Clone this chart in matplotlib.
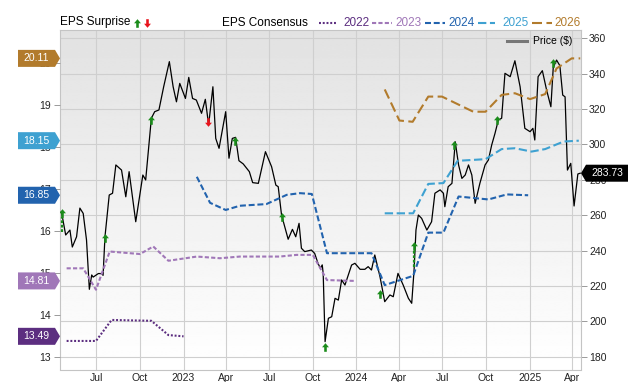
import numpy as np
import pandas as pd
import matplotlib
matplotlib.use("Agg")
import matplotlib.pyplot as plt
from matplotlib.path import Path
from matplotlib.patches import Polygon
from matplotlib.lines import Line2D
from matplotlib.transforms import IdentityTransform, blended_transform_factory

# ---- data ----
price_dates = [
    "2022-04-18", "2022-04-27", "2022-05-06", "2022-05-11", "2022-05-20", "2022-05-27",
    "2022-06-03", "2022-06-10", "2022-06-16", "2022-06-21", "2022-06-24", "2022-07-05",
    "2022-07-12", "2022-07-15", "2022-07-19", "2022-07-28", "2022-08-04", "2022-08-11",
    "2022-08-23", "2022-09-01", "2022-09-08", "2022-09-22", "2022-10-07", "2022-10-13",
    "2022-10-25", "2022-11-01", "2022-11-10", "2022-11-20", "2022-12-02", "2022-12-10",
    "2022-12-17", "2022-12-24",
    "2023-01-05", "2023-01-12", "2023-01-20", "2023-01-28", "2023-02-08", "2023-02-16",
    "2023-02-23", "2023-03-04", "2023-03-10", "2023-03-17", "2023-03-31", "2023-04-07",
    "2023-04-14", "2023-04-21", "2023-04-28", "2023-05-07", "2023-05-20", "2023-05-27",
    "2023-06-08", "2023-06-23", "2023-07-06", "2023-07-15", "2023-07-20", "2023-07-27",
    "2023-08-10", "2023-08-19", "2023-08-26", "2023-09-02", "2023-09-07", "2023-09-14",
    "2023-09-28", "2023-10-05", "2023-10-12", "2023-10-17", "2023-10-21", "2023-10-23",
    "2023-10-27", "2023-11-03", "2023-11-10", "2023-11-17", "2023-11-24", "2023-12-01",
    "2023-12-08", "2023-12-22", "2023-12-29",
    "2024-01-09", "2024-01-19", "2024-01-26", "2024-02-02", "2024-02-09", "2024-02-20",
    "2024-03-01", "2024-03-12", "2024-03-19", "2024-03-29", "2024-04-09", "2024-04-20",
    "2024-04-27", "2024-05-02", "2024-05-06", "2024-05-11", "2024-05-18", "2024-05-29",
    "2024-06-08", "2024-06-15", "2024-06-26", "2024-07-03", "2024-07-06", "2024-07-13",
    "2024-07-21", "2024-07-28", "2024-08-04", "2024-08-11", "2024-08-18", "2024-08-25",
    "2024-09-01", "2024-09-08", "2024-09-18", "2024-09-29", "2024-10-06", "2024-10-13",
    "2024-10-20", "2024-10-27", "2024-11-03", "2024-11-10", "2024-11-21", "2024-12-01",
    "2024-12-12", "2024-12-22",
    "2025-01-02", "2025-01-08", "2025-01-12", "2025-01-19", "2025-01-28", "2025-02-06",
    "2025-02-15", "2025-02-20", "2025-02-27", "2025-03-06", "2025-03-12", "2025-03-17",
    "2025-03-22", "2025-03-29", "2025-04-05", "2025-04-13", "2025-04-18",
]
price_values = [
    262, 248.8, 251.6, 242, 247.8, 264, 261, 246, 218.1, 226.2, 225, 227, 227, 226,
    247.8, 271.4, 272.4, 288.4, 285.5, 270.4, 284.6, 256.3, 282.7, 279.9, 314.8, 318.5,
    319.5, 332.6, 346.8, 332.6, 324.1, 334.5,
    326, 337.9, 326, 325.1, 317.6, 325.5, 311, 332.6, 303.4, 297.8, 318.5, 292.2, 303.4,
    304, 290.8, 289, 284.6, 278.4, 278, 295.9, 287.4, 277, 276.1, 260.1, 246.4, 252,
    247.8, 255.4, 241.3, 239.4, 240.3, 238.4, 232.8, 230, 231.9, 227.1, 188.5, 201.7,
    202.6, 213, 212, 223.4, 220.5, 231.8, 232.8,
    229.4, 229.4, 230.9, 229, 237.5, 225.2, 211.1, 214.9, 213.9, 227.1, 220.5, 213,
    210.2, 229, 251.6, 260.1, 258.2, 251.6, 256.3, 272.4, 274.3, 272.4, 264.8, 276.1,
    278, 301.5, 288.4, 280.8, 282.7, 288.4, 282.7, 266.7, 278, 288.4, 291.2, 299.7,
    306.3, 313.8, 314.8, 340.2, 338.3, 347.3, 332.6, 309.1,
    307.2, 309.1, 302.5, 338.3, 341.7, 330.7, 321.3, 343.5, 347.7, 344.5, 327.9, 326.9,
    285.5, 289.3, 265.2, 283.3, 283.73,
]

eps22_dates = ["2022-04-29", "2022-06-30", "2022-08-02", "2022-10-25", "2022-11-30", "2023-01-01"]
eps22_values = [13.38, 13.38, 13.88, 13.86, 13.52, 13.49]

eps23_dates = ["2022-04-29", "2022-06-03", "2022-06-30", "2022-07-29", "2022-10-01", "2022-10-29",
               "2022-11-30", "2023-01-29", "2023-03-19", "2023-04-30", "2023-07-23", "2023-08-28",
               "2023-10-01", "2023-10-31", "2023-12-29"]
eps23_values = [15.11, 15.11, 14.60, 15.51, 15.45, 15.63, 15.29, 15.39, 15.35, 15.39, 15.39,
                15.43, 15.43, 14.83, 14.81]

eps24_dates = ["2023-01-29", "2023-02-26", "2023-03-31", "2023-04-30", "2023-06-25", "2023-08-07",
               "2023-09-04", "2023-09-29", "2023-10-31", "2024-02-02", "2024-03-01", "2024-04-30",
               "2024-06-01", "2024-07-03", "2024-08-04", "2024-10-06", "2024-11-14", "2024-12-29"]
eps24_values = [17.29, 16.67, 16.50, 16.60, 16.64, 16.86, 16.90, 16.88, 15.47, 15.47, 14.71,
                14.93, 15.96, 15.96, 16.82, 16.75, 16.87, 16.85]

eps25_dates = ["2024-03-01", "2024-04-30", "2024-06-01", "2024-07-03", "2024-08-02", "2024-09-30",
               "2024-11-03", "2024-12-01", "2025-01-05", "2025-02-03", "2025-03-14", "2025-04-15"]
eps25_values = [16.42, 16.42, 17.12, 17.14, 17.67, 17.71, 17.95, 17.97, 17.89, 17.95, 18.13, 18.15]

eps26_dates = ["2024-03-01", "2024-04-01", "2024-04-29", "2024-06-01", "2024-06-30", "2024-09-04",
               "2024-09-30", "2024-11-03", "2024-12-01", "2025-01-02", "2025-02-03", "2025-02-27",
               "2025-03-31", "2025-04-18"]
eps26_values = [19.37, 18.63, 18.60, 19.20, 19.20, 18.84, 18.84, 19.24, 19.28, 19.14, 19.26,
                19.87, 20.11, 20.11]

surprise_dates = ["2022-04-19", "2022-07-19", "2022-10-25", "2023-02-21", "2023-04-19", "2023-07-27",
                  "2023-10-27", "2024-02-21", "2024-05-02", "2024-07-26", "2024-10-24", "2025-02-20"]
surprise_prices = [261.2, 247.1, 313.8, 312.7, 301.9, 259.0, 185.5, 215.4, 242.6, 299.7, 313.8, 346.0]
surprise_dirs = ["up", "up", "up", "down", "up", "up", "up", "up", "up", "up", "up", "up"]

# dashed jump markers under two of the surprises
jump_dates = ["2022-04-19", "2024-05-02"]
jump_low = [250.4, 230.9]
jump_high = [259.0, 240.0]

tick_dates = ["2022-07-01", "2022-10-01", "2023-01-01", "2023-04-01", "2023-07-01", "2023-10-01",
              "2024-01-01", "2024-04-01", "2024-07-01", "2024-10-01", "2025-01-01", "2025-04-01"]
tick_labels = ["Jul", "Oct", "2023", "Apr", "Jul", "Oct", "2024", "Apr", "Jul", "Oct", "2025", "Apr"]

years = ["2022", "2023", "2024", "2025", "2026"]
colors = ["#5c2e80", "#a077b8", "#2263ae", "#3ea1d1", "#b27b2c"]
dashes = [(0, (1.4, 1.3)), (0, (3.0, 1.6)), (0, (4.3, 2.0)), (0, (6.0, 2.6)), (0, (7.2, 3.2))]

plt.rcParams["font.family"] = ["Liberation Sans", "DejaVu Sans"]
plt.rcParams["lines.scale_dashes"] = False

W, H = 640, 382
fig = plt.figure(figsize=(6.4, 3.82), dpi=100)
rect = [60 / W, (H - 369.5) / H, 520.7 / W, 339.5 / H]

# gradient background
bg = fig.add_axes(rect, zorder=-1)
grad = np.linspace(0.885, 1.0, 256).reshape(-1, 1)
bg.imshow(grad, cmap="gray", vmin=0, vmax=1, aspect="auto", interpolation="bilinear")
bg.axis("off")

ax_p = fig.add_axes(rect)
ax_p.patch.set_visible(False)
ax_e = ax_p.twinx()
ax_p.yaxis.tick_right()
ax_e.yaxis.tick_left()

# price
pd_dates = pd.to_datetime(price_dates)
ax_p.plot(pd_dates, price_values, color="black", lw=0.9, zorder=3)

# surprise arrows
up_arrow = Path([(-0.3, -1), (-0.3, 0.05), (-0.8, 0.05), (0, 1), (0.8, 0.05), (0.3, 0.05),
                 (0.3, -1), (-0.3, -1)], closed=True)
down_arrow = Path([(x, -y) for x, y in up_arrow.vertices], closed=True)
green, red = "#1b8c1b", "#e8141c"

for d, lo, hi in zip(jump_dates, jump_low, jump_high):
    ax_p.plot([pd.Timestamp(d)] * 2, [lo, hi], color=green, lw=1.6, ls=(0, (2, 1.2)), zorder=4)
for d, p, s in zip(surprise_dates, surprise_prices, surprise_dirs):
    ax_p.plot([pd.Timestamp(d)], [p], marker=up_arrow if s == "up" else down_arrow,
              ms=6.2, color=green if s == "up" else red, mec="none", zorder=5)

# consensus lines
series = [(eps22_dates, eps22_values), (eps23_dates, eps23_values), (eps24_dates, eps24_values),
          (eps25_dates, eps25_values), (eps26_dates, eps26_values)]
for (ds, vs), c, ls in zip(series, colors, dashes):
    ax_e.plot(pd.to_datetime(ds), vs, color=c, lw=1.5, ls=ls, zorder=3)

# axes setup
ax_p.set_xlim(pd.Timestamp("2022-04-15"), pd.Timestamp("2025-04-19"))
ax_p.set_ylim(172.76, 364.69)
ax_e.set_ylim(12.70, 20.786)
ax_p.set_xticks(pd.to_datetime(tick_dates))
ax_p.set_xticklabels(tick_labels)
ax_p.set_yticks(np.arange(180, 361, 20))
ax_e.set_yticks(np.arange(13, 21, 1))

ax_p.set_axisbelow(True)
ax_p.grid(True, color="#cfcfcf", lw=0.8)
ax_p.tick_params(axis="x", length=0, pad=2.5, labelsize=7.5, labelcolor="#222222")
ax_p.tick_params(axis="y", length=4, width=0.7, color="#9a9a9a", pad=2, labelsize=7.5,
                 labelcolor="#222222")
ax_e.tick_params(axis="y", length=4.3, width=0.7, color="#9a9a9a", pad=2.2, labelsize=7.5,
                 labelcolor="#222222")
for sp in ax_p.spines.values():
    sp.set_color("#c4c4c4")
    sp.set_linewidth(0.8)
for sp in ax_e.spines.values():
    sp.set_visible(False)

ident = IdentityTransform()


def badge(y, x0, x1, tip, color, text):
    h = 8.5
    if tip < x0:
        pts = [(tip, y), (x0, y + h), (x1, y + h), (x1, y - h), (x0, y - h)]
    else:
        pts = [(x0, y + h), (x1, y + h), (tip, y), (x1, y - h), (x0, y - h)]
    fig.add_artist(Polygon(pts, closed=True, transform=ident, facecolor=color,
                           edgecolor="none", zorder=5))
    fig.text((x0 + x1) / 2, y, text, transform=ident, ha="center", va="center",
             color="white", fontsize=7.5, zorder=6)


eps_y = blended_transform_factory(ax_e.transAxes, ax_e.transData)
for (ds, vs), c in zip(series, colors):
    badge(eps_y.transform((0, vs[-1]))[1], 18, 55, 60, c, f"{vs[-1]:.2f}")

price_y = blended_transform_factory(ax_p.transAxes, ax_p.transData)
badge(price_y.transform((0, price_values[-1]))[1], 586, 628, 581, "black",
      f"{price_values[-1]:.2f}")

# top legend
ly = H - 22.5
fig.text(60, ly, "EPS Surprise", transform=ident, ha="left", va="center", fontsize=8.5)
fig.add_artist(Line2D([137], [ly], marker=up_arrow, ms=6.2, color=green, mec="none",
                      transform=ident))
fig.add_artist(Line2D([147], [ly], marker=down_arrow, ms=6.2, color=red, mec="none",
                      transform=ident))
fig.text(222, ly, "EPS Consensus", transform=ident, ha="left", va="center", fontsize=8.5)
sample_x = [(319, 337, 343), (372, 392, 395), (425, 445, 448), (478, 495, 502), (532, 552, 554)]
for (x0, x1, xt), c, ls, yr in zip(sample_x, colors, dashes, years):
    fig.add_artist(Line2D([x0, x1], [ly, ly], color=c, lw=1.5, ls=ls, transform=ident))
    fig.text(xt, ly, yr, transform=ident, ha="left", va="center", fontsize=8.5, color=c)

# price legend
fig.add_artist(Line2D([507, 527], [H - 41, H - 41], color="#777777", lw=2.2, transform=ident))
fig.text(533, H - 41, "Price ($)", transform=ident, ha="left", va="center", fontsize=7.5)

fig.savefig("out.png", dpi=100)
